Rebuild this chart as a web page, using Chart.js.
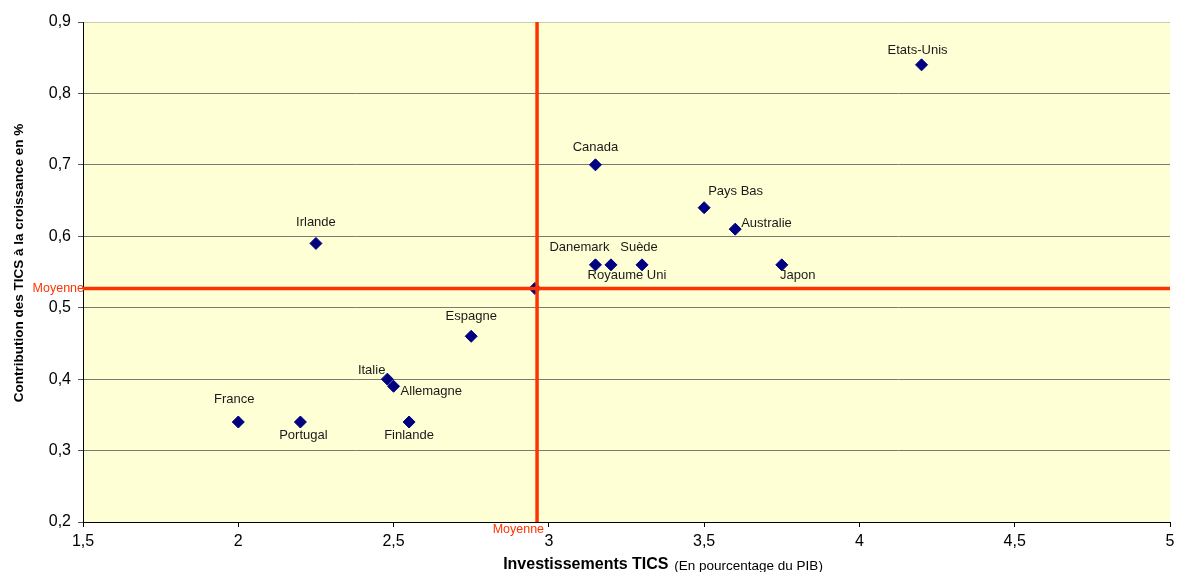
<!DOCTYPE html>
<html><head><meta charset="utf-8">
<script src="https://cdn.jsdelivr.net/npm/chart.js@4"></script>
<style>html,body{margin:0;padding:0;background:#fff;overflow:hidden}#wrap{width:1177px;height:572px;position:relative}</style>
</head><body><div id="wrap"><canvas id="c" width="1177" height="572"></canvas></div>
<script>
const countries = ['Etats-Unis','Canada','Pays Bas','Australie','Danemark','Royaume Uni','Suède','Japon','Irlande','Espagne','Italie','Allemagne','France','Portugal','Finlande'];
const invest  = [4.2, 3.15, 3.5, 3.6, 3.15, 3.2, 3.3, 3.75, 2.25, 2.75, 2.48, 2.5, 2.0, 2.2, 2.55];
const contrib = [0.84, 0.70, 0.64, 0.61, 0.56, 0.56, 0.56, 0.56, 0.59, 0.46, 0.40, 0.39, 0.34, 0.34, 0.34];
const meanPointX = 2.955;
const meanPointY = 0.527;
const meanInvest = 2.962;
const meanContrib = 0.527;
const meanLabel = 'Moyenne';
const xTickValues = [1.5, 2, 2.5, 3, 3.5, 4, 4.5, 5];
const xTickLabels = ['1,5','2','2,5','3','3,5','4','4,5','5'];
const yTickValues = [0.2, 0.3, 0.4, 0.5, 0.6, 0.7, 0.8, 0.9];
const yTickLabels = ['0,2','0,3','0,4','0,5','0,6','0,7','0,8','0,9'];
const xTitleBold = 'Investissements TICS';
const xTitleNote = ' (En pourcentage du PIB)';
const yTitle = 'Contribution des TICS à la croissance en %';

// label placement (style only): [align, dx, dy]
const labelLayout = {
  'Etats-Unis':['center',-4,-14], 'Canada':['center',0,-17], 'Pays Bas':['left',4,-16],
  'Australie':['left',6,-6], 'Danemark':['center',-16,-17], 'Royaume Uni':['center',16,11],
  'Suède':['center',-3,-17], 'Japon':['center',16,11], 'Irlande':['center',0,-21],
  'Espagne':['center',0,-20], 'Italie':['right',-2,-9], 'Allemagne':['left',7,5],
  'France':['center',-4,-23], 'Portugal':['center',3,13], 'Finlande':['center',0,13]
};

const FONT = "'Liberation Sans', Arial, sans-serif";
const RED = '#FF3300';

const pts = invest.map((x, i) => ({x: x, y: contrib[i]}));
pts.push({x: meanPointX, y: meanPointY});

const deco = {
  id: 'deco',
  beforeDraw(chart) {
    const {ctx, chartArea: a} = chart;
    ctx.save();
    ctx.fillStyle = 'rgb(255,255,214)';
    ctx.fillRect(a.left, a.top, a.right - a.left, a.bottom - a.top);
    ctx.restore();
  },
  afterDatasetsDraw(chart) {
    const ctx = chart.ctx;
    const meta = chart.getDatasetMeta(1);
    ctx.save();
    ctx.font = '13px ' + FONT;
    ctx.fillStyle = '#1a1a1a';
    ctx.textBaseline = 'middle';
    countries.forEach((name, i) => {
      const el = meta.data[i];
      const l = labelLayout[name] || ['center', 0, -17];
      ctx.textAlign = l[0];
      ctx.fillText(name, el.x + l[1], el.y + l[2]);
    });
    ctx.restore();
  },
  afterDraw(chart) {
    const {ctx, chartArea: a, scales} = chart;
    ctx.save();
    ctx.fillStyle = RED;
    ctx.font = '12.5px ' + FONT;
    ctx.textBaseline = 'middle';
    ctx.textAlign = 'right';
    ctx.fillText(meanLabel, a.left + 1, scales.y.getPixelForValue(meanContrib));
    ctx.fillText(meanLabel, scales.x.getPixelForValue(meanInvest) + 7, a.bottom + 8);
    ctx.fillStyle = '#000';
    ctx.textAlign = 'left';
    ctx.font = 'bold 16px ' + FONT;
    const w1 = ctx.measureText(xTitleBold).width;
    ctx.font = '13.5px ' + FONT;
    const w2 = ctx.measureText(xTitleNote).width;
    const cx = 662;
    const sx = cx - (w1 + w2) / 2;
    ctx.font = 'bold 16px ' + FONT;
    ctx.fillText(xTitleBold, sx, 565);
    ctx.font = '13.5px ' + FONT;
    ctx.fillText(xTitleNote, sx + w1 + 2, 566);
    ctx.translate(19.5, 263);
    ctx.rotate(-Math.PI / 2);
    ctx.textAlign = 'center';
    ctx.font = 'bold 13.5px ' + FONT;
    ctx.fillText(yTitle, 0, 0);
    ctx.restore();
  }
};

new Chart(document.getElementById('c'), {
  type: 'scatter',
  data: {
    datasets: [
      {
        type: 'line',
        data: [{x: 1.5, y: meanContrib}, {x: 5, y: meanContrib}],
        borderColor: RED, borderWidth: 3.5, pointRadius: 0, fill: false, order: 0
      },
      {
        data: pts,
        pointStyle: 'rectRot', pointRadius: 6, pointHoverRadius: 6,
        backgroundColor: '#000080', borderColor: '#000080', borderWidth: 1, order: 2
      },
      {
        type: 'line',
        data: [{x: meanInvest, y: 0.2}, {x: meanInvest, y: 0.9}],
        borderColor: RED, borderWidth: 3.5, pointRadius: 0, fill: false, order: 0
      }
    ]
  },
  options: {
    responsive: false,
    animation: false,
    events: [],
    layout: {padding: {left: 0, top: 22, right: -2, bottom: 0}},
    plugins: {legend: {display: false}, tooltip: {enabled: false}},
    scales: {
      x: {
        type: 'linear', min: 1.5, max: 5,
        afterBuildTicks: s => { s.ticks = xTickValues.map(v => ({value: v})); },
        afterFit: s => { s.height = 50; s.paddingRight = 0; s.paddingLeft = 0; },
        ticks: {callback: (v, i) => xTickLabels[i], font: {family: FONT, size: 16}, color: '#000', padding: 5, maxRotation: 0, autoSkip: false},
        grid: {drawOnChartArea: false, drawTicks: true, tickLength: 5, tickColor: '#000'},
        border: {color: '#000', width: 1}
      },
      y: {
        type: 'linear', min: 0.2, max: 0.9,
        afterBuildTicks: s => { s.ticks = yTickValues.map(v => ({value: v})); },
        afterFit: s => { s.width = 83; s.paddingTop = 0; s.paddingBottom = 0; },
        ticks: {callback: (v, i) => yTickLabels[i], font: {family: FONT, size: 16}, color: '#000', padding: 7, autoSkip: false},
        grid: {
          color: ctx => (ctx.index === yTickValues.length - 1 ? '#d0ccaa' : '#7a7a70'),
          lineWidth: 1, drawTicks: true, tickLength: 5, tickColor: '#555'
        },
        border: {color: '#000', width: 1}
      }
    }
  },
  plugins: [deco]
});
</script>
</body></html>
